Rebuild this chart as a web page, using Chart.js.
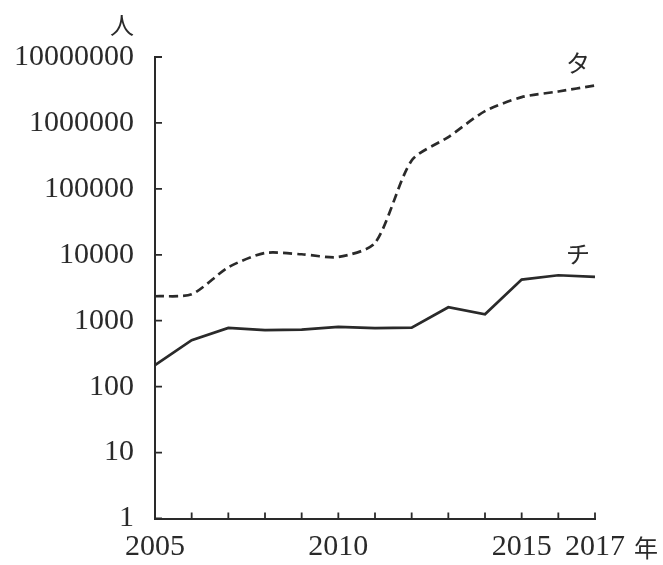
<!DOCTYPE html>
<html>
<head>
<meta charset="utf-8">
<script src="https://cdn.jsdelivr.net/npm/chart.js@4/dist/chart.umd.min.js"></script>
<style>
  html, body { margin: 0; padding: 0; background: #fff; }
  #wrap { width: 663px; height: 565px; }
</style>
</head>
<body>
<div id="wrap"><canvas id="visitorChart"></canvas></div>
<script>
// yearly counts (人), log scale
const years = ['2005', '2006', '2007', '2008', '2009', '2010', '2011', '2012', '2013', '2014', '2015', '2016', '2017'];
const taValues = [2350, 2520, 6460, 10650, 10180, 9260, 15100, 270000, 610000, 1510000, 2460000, 3000000, 3700000];
const chiValues = [212, 507, 778, 718, 731, 805, 770, 783, 1600, 1255, 4210, 4890, 4610];
const seriesNames = ['タ', 'チ'];
const yTicks = [1, 10, 100, 1000, 10000, 100000, 1000000, 10000000];
const xTickLabels = ['2005', '2010', '2015', '2017'];
const yUnit = '人';
const xUnit = '年';

const ink = '#2a2a2a';
const serif = '"Liberation Serif", "DejaVu Serif", serif';
const cjk = '"Noto Sans CJK JP", sans-serif';

// short tick marks pointing into the plot, plus series names and units
const decorations = {
    id: 'decorations',
    afterDraw(chart) {
        const ctx = chart.ctx;
        const x = chart.scales.x;
        const y = chart.scales.y;
        const area = chart.chartArea;
        ctx.save();
        ctx.strokeStyle = ink;
        ctx.lineWidth = 1.8;
        ctx.beginPath();
        y.ticks.forEach((t) => {
            const py = y.getPixelForValue(t.value);
            ctx.moveTo(area.left, py);
            ctx.lineTo(area.left + 7, py);
        });
        x.ticks.forEach((t, i) => {
            const px = x.getPixelForTick(i);
            ctx.moveTo(px, area.bottom);
            ctx.lineTo(px, area.bottom - 6);
        });
        ctx.stroke();

        ctx.fillStyle = ink;
        ctx.textAlign = 'center';
        ctx.textBaseline = 'middle';
        ctx.font = '24px ' + cjk;
        chart.data.datasets.forEach((ds) => {
            const last = ds.data.length - 1;
            const px = x.getPixelForValue(last);
            const py = y.getPixelForValue(ds.data[last]);
            ctx.fillText(ds.label, px - 17, py - 23);
        });
        ctx.fillText(yUnit, area.left - 33, 25);
        ctx.fillText(xUnit, area.right + 51, 548);
        ctx.restore();
    }
};

const ctx = document.getElementById('visitorChart').getContext('2d');
new Chart(ctx, {
    type: 'line',
    data: {
        labels: years,
        datasets: [{
            label: seriesNames[0],
            data: taValues,
            borderColor: ink,
            borderWidth: 2.7,
            borderDash: [9, 5],
            pointRadius: 0,
            tension: 0.25,
            fill: false
        }, {
            label: seriesNames[1],
            data: chiValues,
            borderColor: ink,
            borderWidth: 2.7,
            pointRadius: 0,
            tension: 0,
            fill: false
        }]
    },
    options: {
        responsive: true,
        maintainAspectRatio: false,
        animation: false,
        layout: { padding: { left: 0, top: 57, right: 68, bottom: 0 } },
        plugins: {
            legend: { display: false },
            tooltip: { enabled: false }
        },
        scales: {
            x: {
                type: 'category',
                offset: false,
                grid: { display: false, drawTicks: false },
                border: { display: true, color: ink, width: 2 },
                ticks: {
                    autoSkip: false,
                    maxRotation: 0,
                    minRotation: 0,
                    padding: 11,
                    color: ink,
                    font: { family: serif, size: 30 },
                    callback: function (value) {
                        const label = this.getLabelForValue(value);
                        return xTickLabels.includes(label) ? label : '';
                    }
                },
                afterFit(scale) { scale.height = 46.5; }
            },
            y: {
                type: 'logarithmic',
                min: 1,
                max: 10000000,
                grid: { display: false, drawTicks: false },
                border: { display: true, color: ink, width: 2 },
                ticks: {
                    padding: 21,
                    color: ink,
                    font: { family: serif, size: 30 },
                    callback: (v) => String(v)
                },
                afterBuildTicks(scale) {
                    scale.ticks = yTicks.map((v) => ({ value: v }));
                },
                afterFit(scale) { scale.width = 155; }
            }
        }
    },
    plugins: [decorations]
});
</script>
</body>
</html>
